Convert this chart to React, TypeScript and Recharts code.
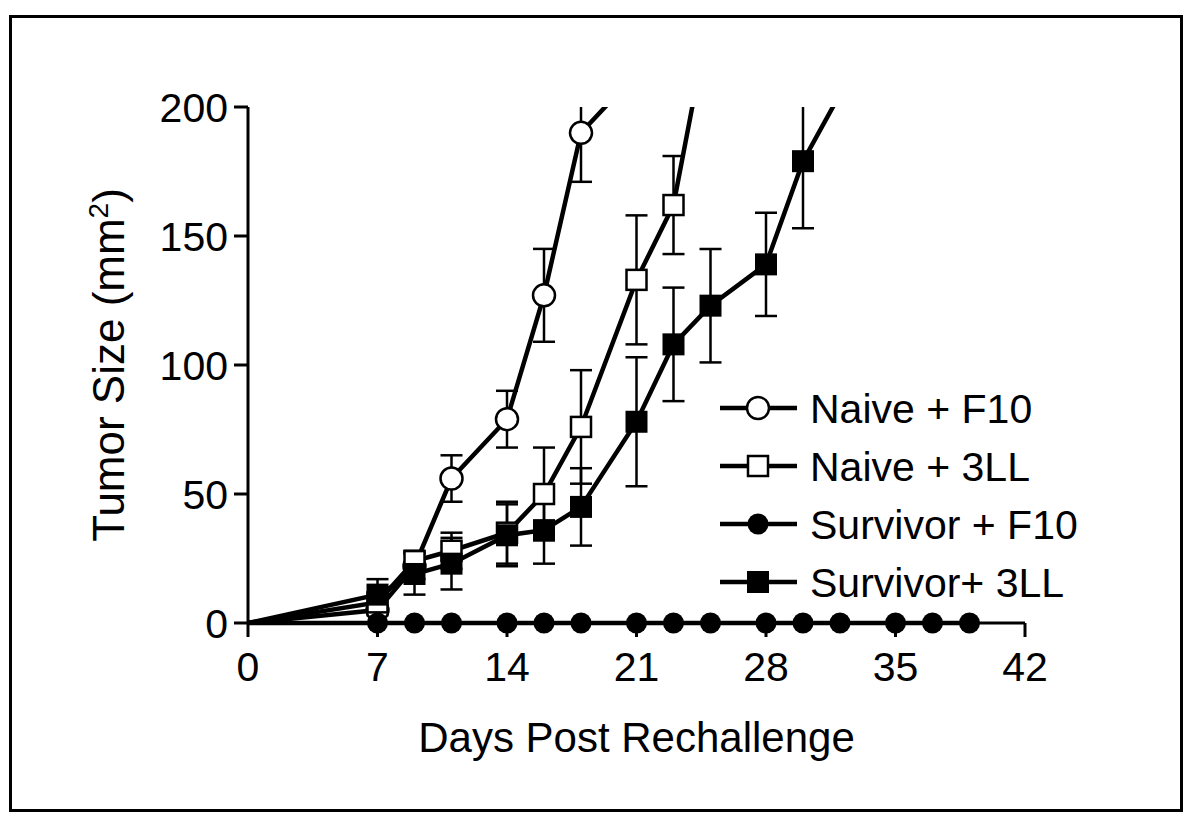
import { ErrorBar, Legend, Line, LineChart, XAxis, YAxis } from 'recharts'

const FONT = '"Liberation Sans", Arial, Helvetica, sans-serif'

const xTicks = [0, 7, 14, 21, 28, 35, 42]
const yTicks = [0, 50, 100, 150, 200]

const naiveF10Days = [0, 7, 9, 11, 14, 16, 18, 21]
const naiveF10Size = [0, 5, 22, 56, 79, 127, 190, 213]
const naiveF10Err = [0, 2, 5, 9, 11, 18, 19, 0]

const naive3LLDays = [0, 7, 9, 11, 14, 16, 18, 21, 23, 25]
const naive3LLSize = [0, 8, 24, 28, 35, 50, 76, 133, 162, 237]
const naive3LLErr = [0, 3, 4, 7, 12, 18, 22, 25, 19, 0]

const survivorF10Days = [0, 7, 9, 11, 14, 16, 18, 21, 23, 25, 28, 30, 32, 35, 37, 39]
const survivorF10Size = [0, 0, 0, 0, 0, 0, 0, 0, 0, 0, 0, 0, 0, 0, 0, 0]

const survivor3LLDays = [0, 7, 9, 11, 14, 16, 18, 21, 23, 25, 28, 30, 32]
const survivor3LLSize = [0, 11, 19, 23, 34, 36, 45, 78, 108, 123, 139, 179, 205]
const survivor3LLErr = [0, 6, 8, 10, 12, 13, 15, 25, 22, 22, 20, 26, 0]

const build = (days: number[], size: number[], err?: number[]) =>
  days.map((day, i) => ({ day, size: size[i], err: err ? err[i] : 0 }))

const naiveF10 = build(naiveF10Days, naiveF10Size, naiveF10Err)
const naive3LL = build(naive3LLDays, naive3LLSize, naive3LLErr)
const survivorF10 = build(survivorF10Days, survivorF10Size)
const survivor3LL = build(survivor3LLDays, survivor3LLSize, survivor3LLErr)

type Marker = 'openCircle' | 'openSquare' | 'filledCircle' | 'filledSquare'

const legendItems: { name: string; marker: Marker }[] = [
  { name: 'Naive + F10', marker: 'openCircle' },
  { name: 'Naive + 3LL', marker: 'openSquare' },
  { name: 'Survivor + F10', marker: 'filledCircle' },
  { name: 'Survivor+ 3LL', marker: 'filledSquare' },
]

const drawMarker = (marker: Marker, cx: number, cy: number, key?: string) => {
  if (marker === 'openCircle')
    return <circle key={key} cx={cx} cy={cy} r={11} fill="#fff" stroke="#000" strokeWidth={2.5} />
  if (marker === 'filledCircle') return <circle key={key} cx={cx} cy={cy} r={10.5} fill="#000" />
  if (marker === 'openSquare')
    return <rect key={key} x={cx - 10} y={cy - 10} width={20} height={20} fill="#fff" stroke="#000" strokeWidth={2.5} />
  return <rect key={key} x={cx - 11} y={cy - 11} width={22} height={22} fill="#000" />
}

// no symbol at the origin, like the original
const dotFor = (marker: Marker) => (props: any) => {
  const { cx, cy, payload, index } = props
  if (payload.day === 0) return <g key={`d-${index}`} />
  return drawMarker(marker, cx, cy, `d-${index}`)
}

const renderLegend = () => (
  <svg width={440} height={240}>
    {legendItems.map((item, i) => {
      const y = 33 + i * 58
      return (
        <g key={item.name}>
          <line x1={5} x2={82} y1={y} y2={y} stroke="#000" strokeWidth={4.5} />
          {drawMarker(item.marker, 43, y)}
          <text x={95} y={y + 15} fontSize={41} fontFamily={FONT} fill="#000">
            {item.name}
          </text>
        </g>
      )
    })}
  </svg>
)

const renderYLabel = (props: any) => {
  const { viewBox } = props
  const x = viewBox.x + 36
  const y = viewBox.y + viewBox.height / 2
  return (
    <text x={x} y={y} transform={`rotate(-90, ${x}, ${y})`} textAnchor="middle" fontSize={44} fontFamily={FONT} fill="#000">
      Tumor Size (mm
      <tspan dy={-16} fontSize={28}>2</tspan>
      <tspan dy={16}>)</tspan>
    </text>
  )
}

const axisStroke = { stroke: '#000', strokeWidth: 3 }
const tickStyle = { fill: '#000', fontSize: 41, fontFamily: FONT }
const LINE_W = 4.5

export default function App() {
  return (
    <div style={{ position: 'absolute', left: 0, top: 0, width: 1200, height: 823, background: '#fff' }}>
      <div
        style={{
          position: 'absolute',
          left: 9,
          top: 15,
          width: 1174,
          height: 797,
          border: '3px solid #000',
          boxSizing: 'border-box',
        }}
      />
      <LineChart width={1200} height={823} margin={{ top: 107, right: 175, bottom: 60, left: 88 }}>
        <XAxis
          type="number"
          dataKey="day"
          domain={[0, 42]}
          ticks={xTicks}
          height={140}
          axisLine={axisStroke}
          tickLine={axisStroke}
          tickSize={14}
          tickMargin={15}
          tick={tickStyle}
          label={{ value: 'Days Post Rechallenge', position: 'insideBottom', offset: 11, fontSize: 42, fontFamily: FONT, fill: '#000' }}
        />
        <YAxis
          yAxisId="a"
          type="number"
          domain={[0, 200]}
          ticks={yTicks}
          allowDataOverflow
          width={160}
          axisLine={axisStroke}
          tickLine={axisStroke}
          tickSize={14}
          tickMargin={6}
          tick={tickStyle}
          label={{ content: renderYLabel }}
        />
        <YAxis yAxisId="b" type="number" domain={[0, 200]} hide />
        <Legend
          content={renderLegend}
          verticalAlign="middle"
          align="center"
          layout="horizontal"
          wrapperStyle={{ position: 'absolute', left: 715, top: 375, width: 440, height: 240 }}
        />
        <Line
          id="nf10"
          yAxisId="a"
          data={naiveF10}
          dataKey="size"
          name="Naive + F10"
          type="linear"
          stroke="#000"
          strokeWidth={LINE_W}
          dot={dotFor('openCircle')}
          activeDot={false}
          isAnimationActive={false}
        >
          <ErrorBar dataKey="err" direction="y" width={11} stroke="#000" strokeWidth={2.5} clipPath="url(#clipPath-nf10)" />
        </Line>
        <Line
          id="n3ll"
          yAxisId="a"
          data={naive3LL}
          dataKey="size"
          name="Naive + 3LL"
          type="linear"
          stroke="#000"
          strokeWidth={LINE_W}
          dot={dotFor('openSquare')}
          activeDot={false}
          isAnimationActive={false}
        >
          <ErrorBar dataKey="err" direction="y" width={11} stroke="#000" strokeWidth={2.5} clipPath="url(#clipPath-n3ll)" />
        </Line>
        <Line
          yAxisId="b"
          data={survivorF10}
          dataKey="size"
          name="Survivor + F10"
          type="linear"
          stroke="#000"
          strokeWidth={LINE_W}
          dot={dotFor('filledCircle')}
          activeDot={false}
          isAnimationActive={false}
        />
        <Line
          id="s3ll"
          yAxisId="a"
          data={survivor3LL}
          dataKey="size"
          name="Survivor+ 3LL"
          type="linear"
          stroke="#000"
          strokeWidth={LINE_W}
          dot={dotFor('filledSquare')}
          activeDot={false}
          isAnimationActive={false}
        >
          <ErrorBar dataKey="err" direction="y" width={11} stroke="#000" strokeWidth={2.5} clipPath="url(#clipPath-s3ll)" />
        </Line>
      </LineChart>
    </div>
  )
}
